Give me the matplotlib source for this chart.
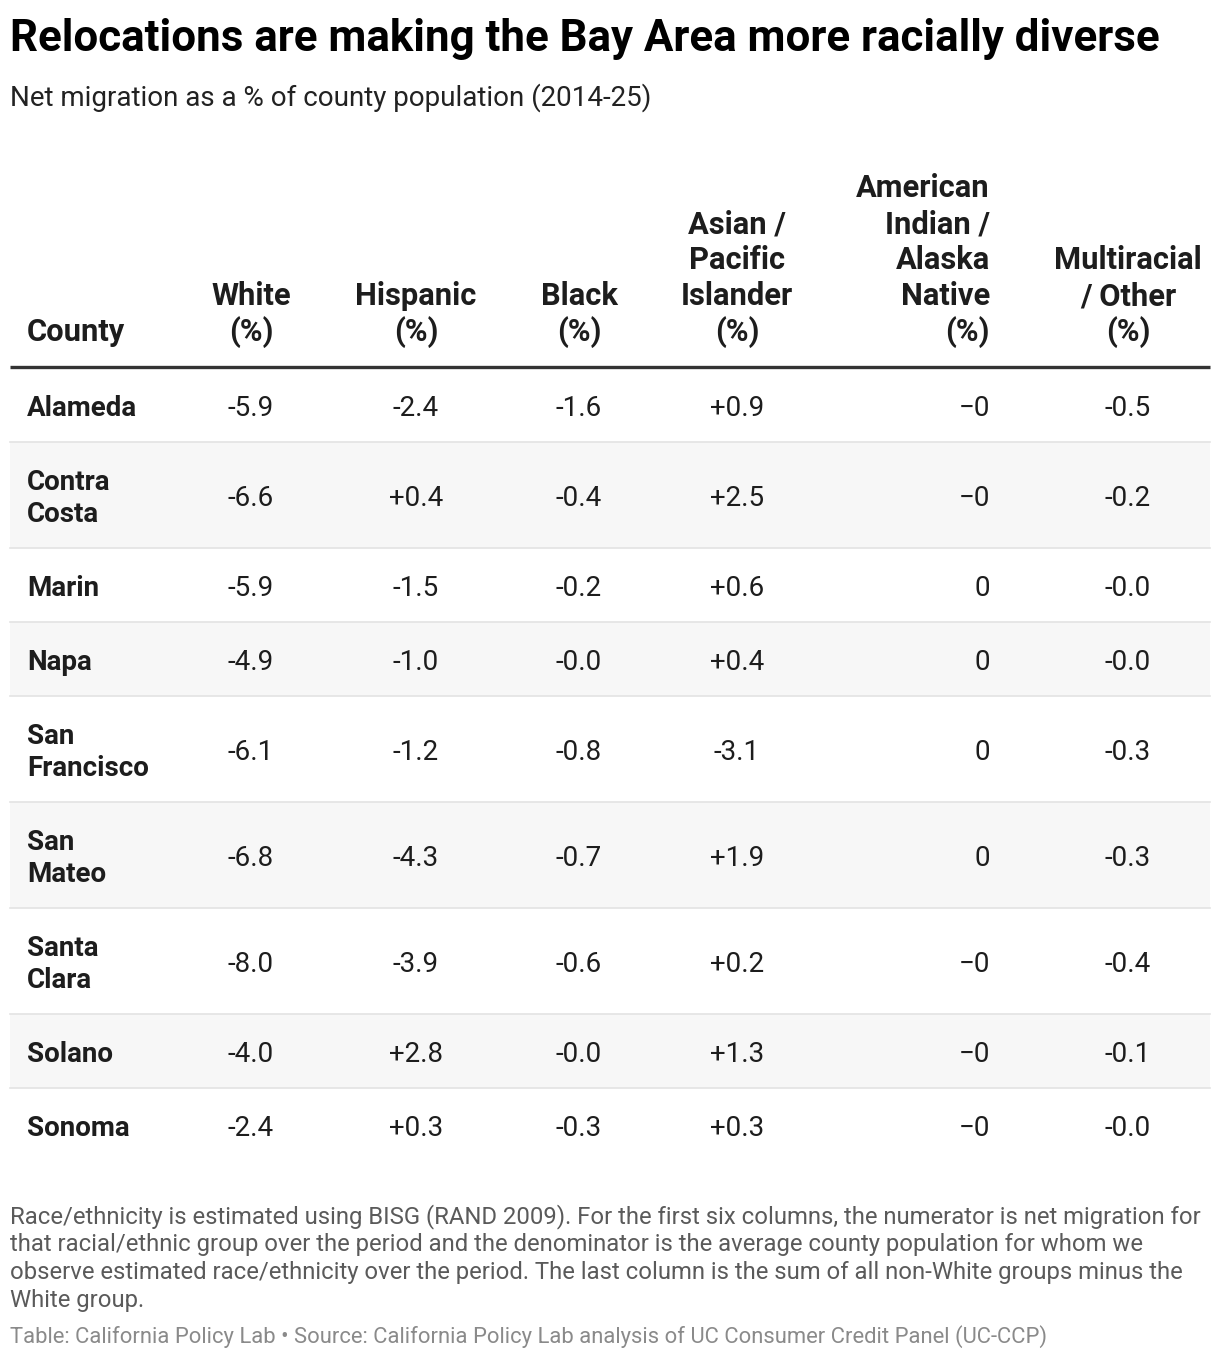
import matplotlib
matplotlib.use("Agg")
import matplotlib.pyplot as plt
from matplotlib.patches import Rectangle

plt.rcParams['font.family'] = ['Roboto', 'DejaVu Sans']

title = "Relocations are making the Bay Area more racially diverse"
subtitle = "Net migration as a % of county population (2014-25)"

headers = [
    ["County"],
    ["White", "(%)"],
    ["Hispanic", "(%)"],
    ["Black", "(%)"],
    ["Asian /", "Pacific", "Islander", "(%)"],
    ["American", "Indian /", "Alaska", "Native", "(%)"],
    ["Multiracial", "/ Other", "(%)"],
]

counties = [["Alameda"], ["Contra", "Costa"], ["Marin"], ["Napa"],
            ["San", "Francisco"], ["San", "Mateo"], ["Santa", "Clara"],
            ["Solano"], ["Sonoma"]]

white = ["-5.9", "-6.6", "-5.9", "-4.9", "-6.1", "-6.8", "-8.0", "-4.0", "-2.4"]
hispanic = ["-2.4", "+0.4", "-1.5", "-1.0", "-1.2", "-4.3", "-3.9", "+2.8", "+0.3"]
black = ["-1.6", "-0.4", "-0.2", "-0.0", "-0.8", "-0.7", "-0.6", "-0.0", "-0.3"]
asian_pi = ["+0.9", "+2.5", "+0.6", "+0.4", "-3.1", "+1.9", "+0.2", "+1.3", "+0.3"]
am_indian = ["\u22120", "\u22120", "0", "0", "0", "0", "\u22120", "\u22120", "\u22120"]
multi = ["-0.5", "-0.2", "-0.0", "-0.0", "-0.3", "-0.3", "-0.4", "-0.1", "-0.0"]

notes = [
    "Race/ethnicity is estimated using BISG (RAND 2009). For the first six columns, the numerator is net migration for",
    "that racial/ethnic group over the period and the denominator is the average county population for whom we",
    "observe estimated race/ethnicity over the period. The last column is the sum of all non-White groups minus the",
    "White group.",
]
source = "Table: California Policy Lab \u2022 Source: California Policy Lab analysis of UC Consumer Credit Panel (UC-CCP)"

W, H = 1220, 1360
fig = plt.figure(figsize=(W / 100, H / 100), dpi=100)
ax = fig.add_axes([0, 0, 1, 1])
ax.set_xlim(0, W)
ax.set_ylim(H, 0)
ax.axis("off")

# column anchors (x, ha)
cols = [(27, "left"), (251, "center"), (416, "center"), (579, "center"),
        (737, "center"), (990, "right"), (1128, "center")]

ax.text(10, 51, title, fontsize=31.6, fontweight="bold", color="#000000")
ax.text(10, 106, subtitle, fontsize=20, color="#222222")

# header
head_base = 341
head_step = 36
for (x, ha), lines in zip(cols, headers):
    n = len(lines)
    for i, s in enumerate(lines):
        ax.text(x, head_base - (n - 1 - i) * head_step, s, ha=ha, va="baseline",
                fontsize=22.2, fontweight="bold", color="#1d1d1d")
ax.plot([10, 1210], [367, 367], color="#333333", lw=2.4, solid_capstyle="butt")

# rows
top = 368
line_step = 32
columns = [white, hispanic, black, asian_pi, am_indian, multi]
for r, name in enumerate(counties):
    h = 74 if len(name) == 1 else 106
    if r % 2 == 1:
        ax.add_patch(Rectangle((10, top), 1200, h, facecolor="#f7f7f7", edgecolor="none"))
    mid = top + h / 2
    n = len(name)
    for i, s in enumerate(name):
        yc = mid + (i - (n - 1) / 2) * line_step
        ax.text(cols[0][0], yc + 11, s, ha="left", va="baseline",
                fontsize=20, fontweight="bold", color="#1d1d1d")
    for (x, ha), vals in zip(cols[1:], columns):
        ax.text(x, mid + 11, vals[r], ha=ha, va="baseline", fontsize=20, color="#1d1d1d")
    top += h
    if r < len(counties) - 1:
        ax.plot([10, 1210], [top, top], color="#e3e3e3", lw=1.2)

for i, s in enumerate(notes):
    ax.text(10, 1223 + i * 28, s, fontsize=17.2, color="#5a5a5a")
ax.text(10, 1343, source, fontsize=15.8, color="#8a8a8a")

fig.savefig("out.png", dpi=100)
